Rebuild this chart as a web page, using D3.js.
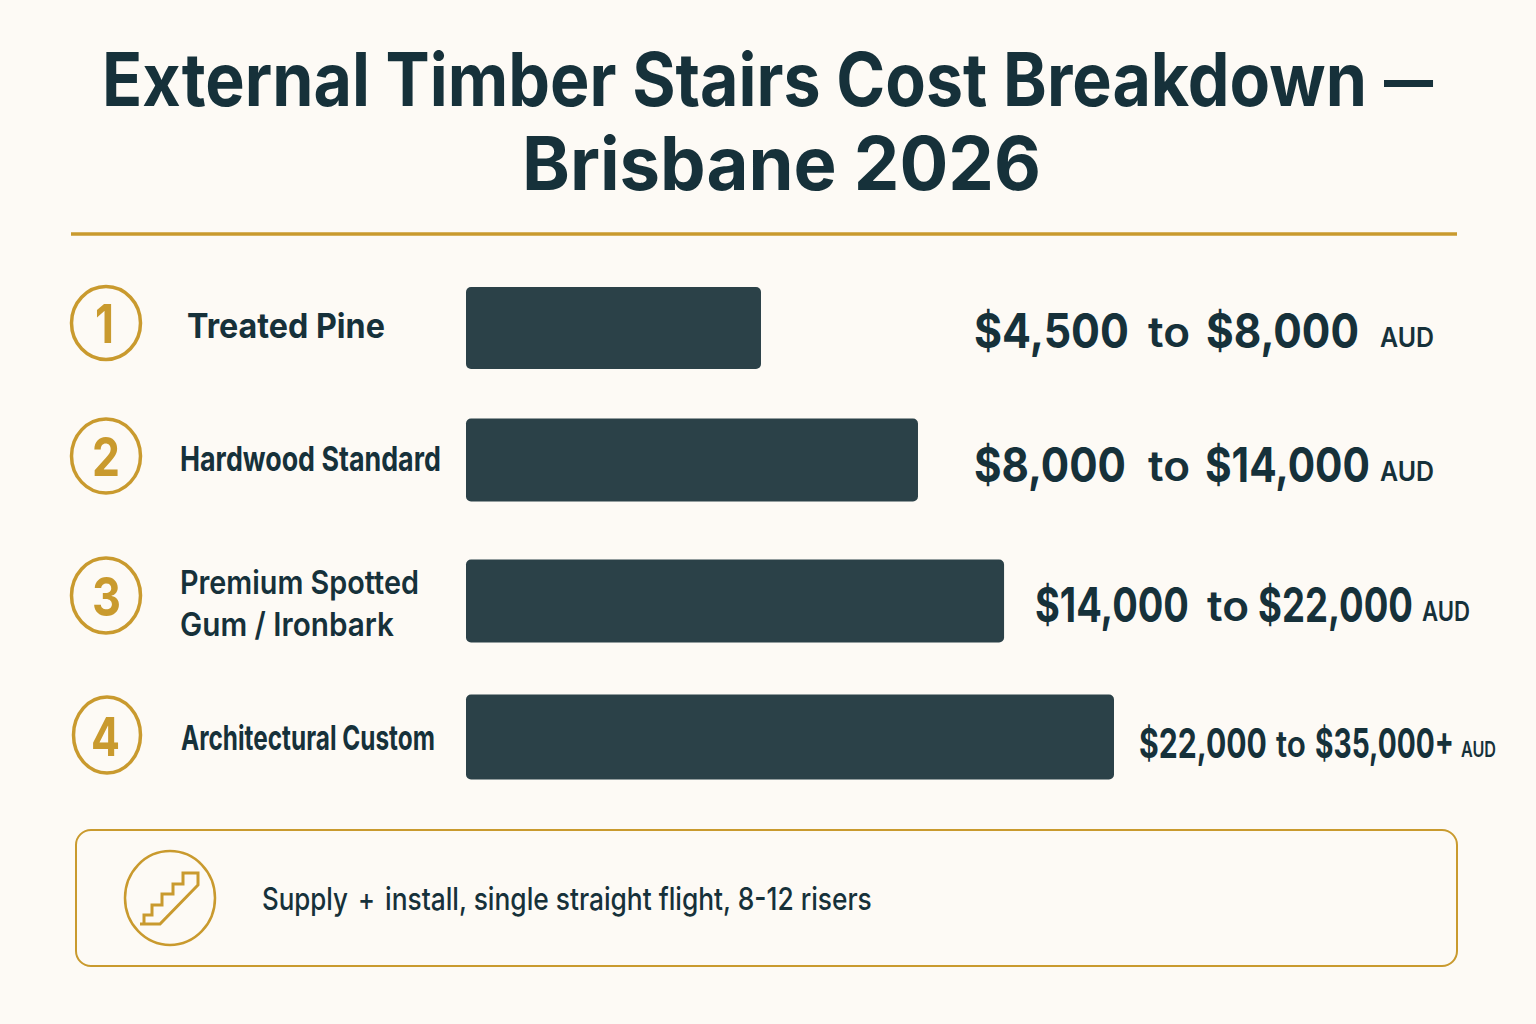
<!DOCTYPE html>
<html><head><meta charset="utf-8">
<script src="https://cdn.jsdelivr.net/npm/d3@7/dist/d3.min.js"></script>
<style>html,body{margin:0;background:#fdfaf5}svg{display:block}text{font-family:Inter,"Noto Sans",sans-serif}</style>
</head><body><svg id="c" width="1536" height="1024"></svg>
<script>
const titleParts=["External Timber Stairs Cost Breakdown","—","Brisbane 2026"];
const numbers=["1","2","3","4"];
const categories=[["Treated Pine"],["Hardwood Standard"],["Premium Spotted","Gum / Ironbark"],["Architectural Custom"]];
const barValues=[9150,14020,16690,20100];
const ranges=[["$4,500","to","$8,000","AUD"],["$8,000","to","$14,000","AUD"],["$14,000","to","$22,000","AUD"],["$22,000","to","$35,000+","AUD"]];
const noteParts=["Supply","+","install, single straight flight, 8-12 risers"];

const dark="#2b4148",ink="#16313a",gold="#c99a2e";
const svg=d3.select("#c");
// place text with left edge x, baseline y, squeezed horizontally to a target width
function fit(parent,s,x,y,w,size,weight,fill){
  const t=parent.append("text").attr("font-size",size).attr("font-weight",weight).attr("fill",fill).text(s);
  const n=t.node().getComputedTextLength();
  t.attr("transform",`translate(${x},${y}) scale(${w/n},1)`);
  return t;
}
const x=d3.scaleLinear().domain([0,20100]).range([466,1114]);
const rowY=[328,460,601,737],barH=[82,83,83,85];
const cx=[106,106,106,107],cy=[323,456,595.5,735],rx=[34.5,34.5,34.5,33.5],ry=[36.5,37,37.5,38];
const numX=[95,92,92,91],numY=[343,476,616,756],numW=[19,28,29,29];
const labelX=[187,180,180,181],labelY=[338,471,[594,636],750],labelW=[198,261,[239,214],254],labelSize=[34,34,[33,33],34];
const rangeY=[348,482,622,758],rangeSize=[48,48,48,41],toSize=[42,42,42,37],audSize=[27,27,27,21];
const rangePos=[[974,1148,1206,1380],[974,1148,1205,1380],[1035,1207,1258,1422],[1139,1276,1315,1461]];
const rangeW=[[155,42,153,54],[152,42,165,54],[154,42,155,48],[128,30,139,35]];

svg.append("rect").attr("width",1536).attr("height",1024).attr("fill","#fdfaf5");
fit(svg,titleParts[0],102,106,1265,74,700,ink);
fit(svg,titleParts[1],1384,106,49,74,500,ink);
fit(svg,titleParts[2],522,190,519,74,700,ink);
svg.append("line").attr("x1",71).attr("x2",1457).attr("y1",234).attr("y2",234).attr("stroke",gold).attr("stroke-width",3.5);

const rows=svg.selectAll(".r").data(categories).join("g");
rows.append("ellipse").attr("cx",(d,i)=>cx[i]).attr("cy",(d,i)=>cy[i]).attr("rx",(d,i)=>rx[i]).attr("ry",(d,i)=>ry[i]).attr("fill","none").attr("stroke",gold).attr("stroke-width",3.5);
rows.append("rect").attr("x",x(0)).attr("y",(d,i)=>rowY[i]-barH[i]/2).attr("width",(d,i)=>x(barValues[i])-x(0)).attr("height",(d,i)=>barH[i]).attr("rx",5).attr("fill",dark);
rows.each(function(d,i){
  const g=d3.select(this);
  fit(g,numbers[i],numX[i],numY[i],numW[i],54,700,gold);
  d.forEach((s,j)=>{
    const multi=d.length>1;
    fit(g,s,labelX[i],multi?labelY[i][j]:labelY[i],multi?labelW[i][j]:labelW[i],multi?labelSize[i][j]:labelSize[i],i===2?600:700,ink);
  });
  ranges[i].forEach((s,j)=>{
    const yy=rangeY[i]+(j===3?-1:j===1?-1:0);
    fit(g,s,rangePos[i][j],yy,rangeW[i][j],j===3?audSize[i]:j===1?toSize[i]:rangeSize[i],j===1||j===3?600:700,ink);
  });
});

svg.append("rect").attr("x",76).attr("y",830).attr("width",1381).attr("height",136).attr("rx",15).attr("fill","none").attr("stroke",gold).attr("stroke-width",2);
svg.append("ellipse").attr("cx",170).attr("cy",898).attr("rx",45).attr("ry",47).attr("fill","none").attr("stroke",gold).attr("stroke-width",2.5);
const stairOutline=[[140,924],[160,924],[198,885],[198,873],[183,873],[183,884],[173,884],[173,894],[162,894],[162,905],[152,905],[152,915],[144,915],[144,924]];
svg.append("path").attr("d",d3.line()(stairOutline)).attr("fill","none").attr("stroke",gold).attr("stroke-width",3);
fit(svg,noteParts[0],262,910,86,31,500,ink);
fit(svg,noteParts[1],358,910,17,31,500,ink);
fit(svg,noteParts[2],385,910,487,31,500,ink);
</script></body></html>
